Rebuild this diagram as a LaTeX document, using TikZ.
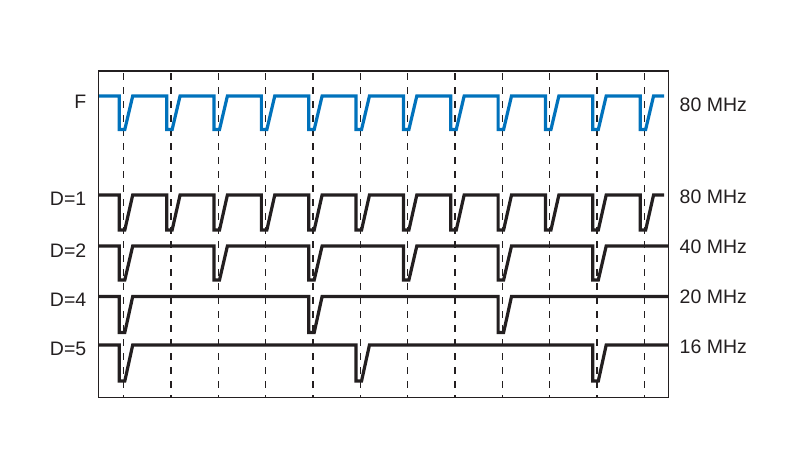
\documentclass[tikz,border=0pt]{standalone}
\usepackage{fontspec}
\setmainfont{Liberation Sans}
\usepackage{xcolor}
\usepackage{tikz}
\usetikzlibrary{positioning,calc}

\definecolor{fblue}{RGB}{0,114,188}
\definecolor{wblack}{RGB}{35,31,32}

\begin{document}
\begin{tikzpicture}[x=1pt, y=-1pt,
    wave/.style={line width=3.2pt, wblack},
    grid/.style={line width=1.3pt, wblack, dash pattern=on 7pt off 7pt, dash phase=11.7pt},
    frame/.style={line width=1.4pt, wblack},
    lbl/.style={font=\fontsize{19.5}{22}\selectfont, text=wblack, inner sep=0pt}]
    \useasboundingbox (0,0) rectangle (800,451);

    % Dashed clock grid
    \foreach \k in {0,...,11}
        \draw[grid] ({123.6+47.35*\k},71) -- ({123.6+47.35*\k},397);

    % F (input clock)
    \draw[wave, fblue] (98.5,96) \foreach \k in {0,...,11} {
        -- ({119.3+47.35*\k},96) -- ({119.3+47.35*\k},129.5)
        -- ({124.8+47.35*\k},129.5) -- ({132.7+47.35*\k},96) } -- (664,96);

    % D=1
    \draw[wave] (98.5,195) \foreach \k in {0,...,11} {
        -- ({119.3+47.35*\k},195) -- ({119.3+47.35*\k},230)
        -- ({124.8+47.35*\k},230) -- ({132.7+47.35*\k},195) } -- (664,195);

    % D=2
    \draw[wave] (98.5,246) \foreach \k in {0,2,...,10} {
        -- ({119.3+47.35*\k},246) -- ({119.3+47.35*\k},280)
        -- ({124.8+47.35*\k},280) -- ({132.7+47.35*\k},246) } -- (668,246);

    % D=4
    \draw[wave] (98.5,296.5) \foreach \k in {0,4,8} {
        -- ({119.3+47.35*\k},296.5) -- ({119.3+47.35*\k},332.5)
        -- ({124.8+47.35*\k},332.5) -- ({132.7+47.35*\k},296.5) } -- (668,296.5);

    % D=5
    \draw[wave] (98.5,345) \foreach \k in {0,5,10} {
        -- ({119.3+47.35*\k},345) -- ({119.3+47.35*\k},381)
        -- ({124.8+47.35*\k},381) -- ({132.7+47.35*\k},345) } -- (668,345);

    % Frame
    \draw[frame] (98.3,71) rectangle (668.3,397.5);

    % Labels
    \foreach \name/\y/\txt in {f/101.5/F, d1/199/D=1, d2/250.5/D=2, d4/299.5/D=4, d5/348.5/D=5}
        \node[lbl, anchor=east] (\name) at (86.5,\y) {\txt};
    \foreach \name/\y/\txt in {ff/105/80 MHz, fa/197/80 MHz, fb/247/40 MHz, fc/297/20 MHz, fd/347/16 MHz}
        \node[lbl, anchor=west] (\name) at (679.5,\y) {\txt};

\end{tikzpicture}
\end{document}
